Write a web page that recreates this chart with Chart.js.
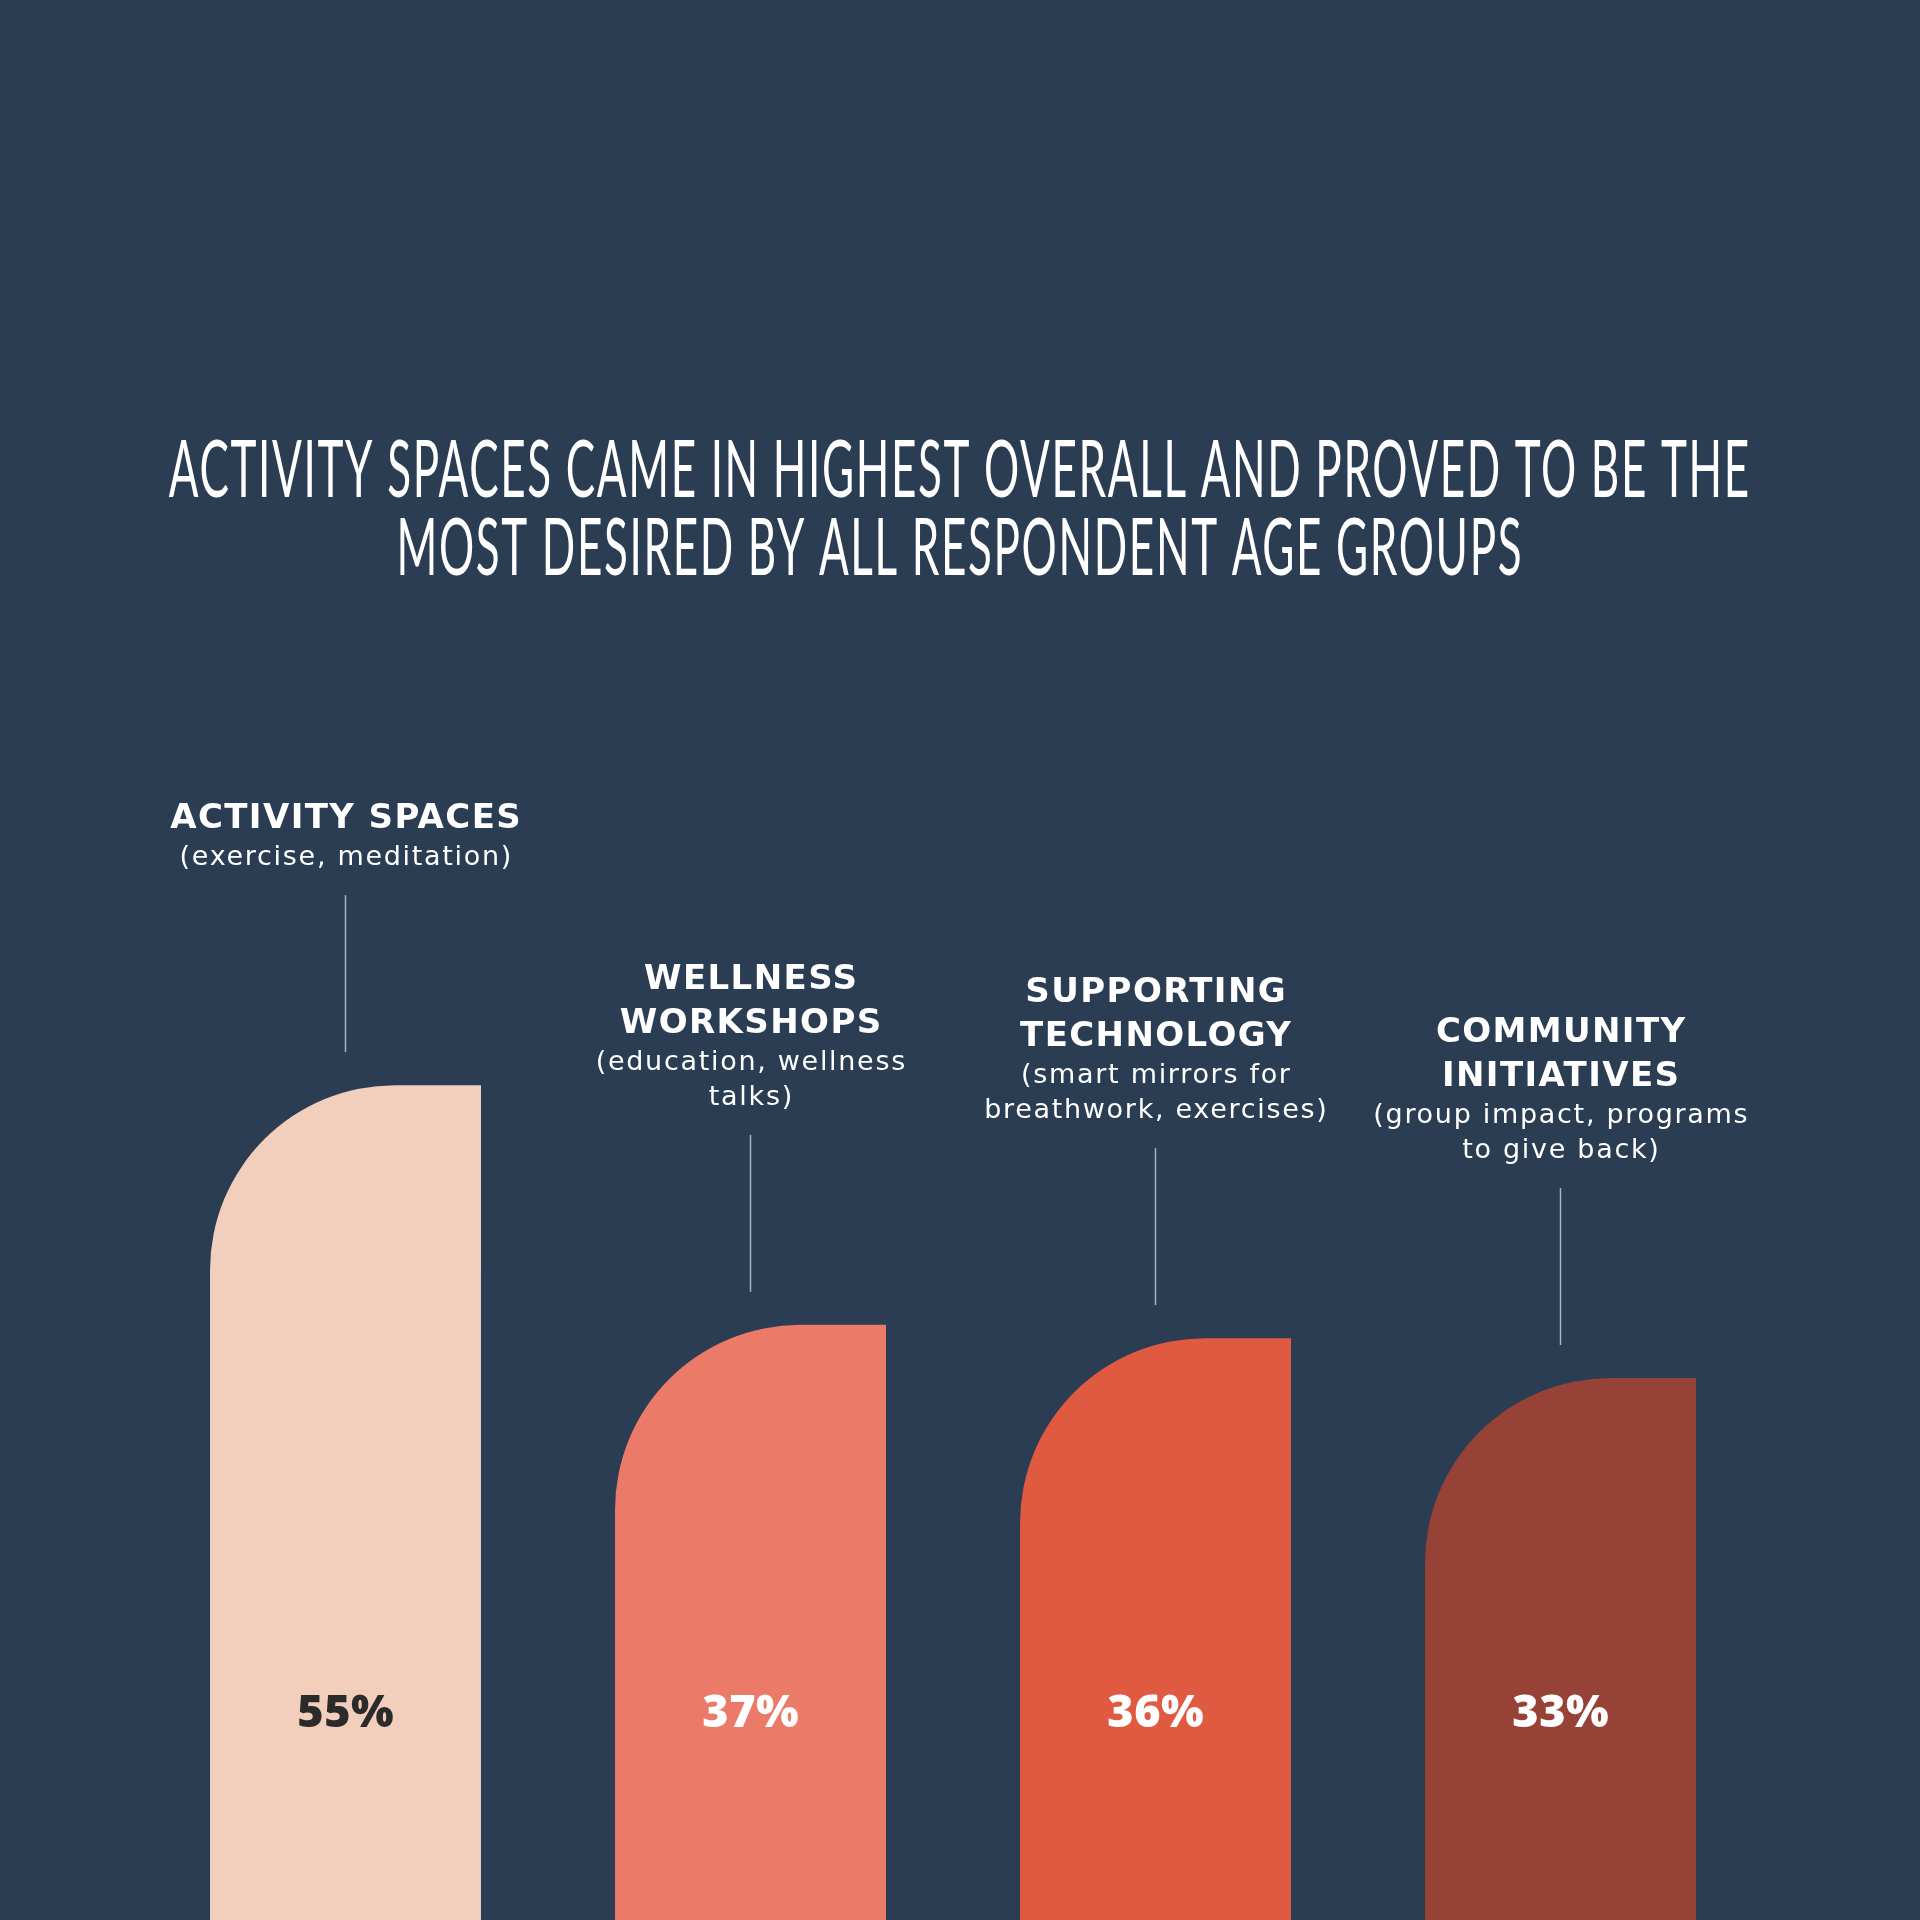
<!DOCTYPE html>
<html>
<head>
<meta charset="utf-8">
<script src="https://cdn.jsdelivr.net/npm/chart.js@4.4.1/dist/chart.umd.min.js"></script>
<style>
  html, body { margin: 0; padding: 0; background: #2a3d52; overflow: hidden; }
  #wrap { width: 1920px; height: 1920px; }
  canvas { display: block; }
</style>
</head>
<body>
<div id="wrap"><canvas id="c" width="1920" height="1920"></canvas></div>
<script>
// ---------------- data ----------------
const titleLines = [
  "ACTIVITY SPACES CAME IN HIGHEST OVERALL AND PROVED TO BE THE",
  "MOST DESIRED BY ALL RESPONDENT AGE GROUPS"
];
const categories = ["Activity spaces", "Wellness workshops", "Supporting technology", "Community initiatives"];
const categoryHeads = [
  ["ACTIVITY SPACES"],
  ["WELLNESS", "WORKSHOPS"],
  ["SUPPORTING", "TECHNOLOGY"],
  ["COMMUNITY", "INITIATIVES"]
];
const categoryNotes = [
  ["(exercise, meditation)"],
  ["(education, wellness", "talks)"],
  ["(smart mirrors for", "breathwork, exercises)"],
  ["(group impact, programs", "to give back)"]
];
const shares = [55, 37, 36, 33];
const barColors = ["#f2cfbd", "#ec7a68", "#e05a42", "#964236"];
const valueColors = ["#2b2b2b", "#ffffff", "#ffffff", "#ffffff"];

// value axis range (bars run off the bottom edge of the picture)
const Y_MIN = -7.7;
const Y_MAX = 100;

// ---------------- custom bar element: one big rounded (top-left) corner ----------------
class ArchBarElement extends Chart.BarElement {
  static id = 'archBar';
  static defaults = { ...Chart.BarElement.defaults, cornerRadius: 185 };
  draw(ctx) {
    const { x, y, base, width } = this.getProps(['x', 'y', 'base', 'width'], true);
    const left = x - width / 2, right = x + width / 2;
    const r = Math.min(this.options.cornerRadius, base - y, width);
    ctx.save();
    ctx.fillStyle = this.options.backgroundColor;
    ctx.beginPath();
    ctx.moveTo(left, base);
    ctx.lineTo(left, y + r);
    ctx.arcTo(left, y, left + r, y, r);
    ctx.lineTo(right, y);
    ctx.lineTo(right, base);
    ctx.closePath();
    ctx.fill();
    ctx.restore();
  }
}
class ArchBarController extends Chart.BarController {
  static id = 'archBar';
  static defaults = { ...Chart.BarController.defaults, dataElementType: 'archBar' };
}
Chart.register(ArchBarElement, ArchBarController);

// ---------------- plugins ----------------
const backgroundPlugin = {
  id: 'bg',
  beforeDraw(chart) {
    const ctx = chart.ctx;
    ctx.save();
    ctx.fillStyle = '#2a3d52';
    ctx.fillRect(0, 0, chart.width, chart.height);
    ctx.restore();
  }
};

const titlePlugin = {
  id: 'posterTitle',
  afterDraw(chart) {
    const ctx = chart.ctx;
    ctx.save();
    ctx.fillStyle = '#ffffff';
    ctx.font = '400 80px Lato, "Open Sans", sans-serif';
    ctx.letterSpacing = '3px';
    ctx.textBaseline = 'alphabetic';
    ctx.textAlign = 'center';
    const w0 = ctx.measureText(titleLines[0]).width;
    const sx = 1582 / w0;
    const cx = 959;
    const baselines = [497, 575];
    titleLines.forEach((line, i) => {
      ctx.save();
      ctx.translate(cx + 1.5 * sx, baselines[i]);
      ctx.scale(sx, 1);
      ctx.fillText(line, 0, 0);
      ctx.restore();
    });
    ctx.restore();
  }
};

const labelsPlugin = {
  id: 'barLabels',
  afterDatasetsDraw(chart) {
    const ctx = chart.ctx;
    const meta = chart.getDatasetMeta(0);
    ctx.save();
    meta.data.forEach((bar, i) => {
      const { x, y } = bar.getProps(['x', 'y'], true);
      // leader line
      ctx.strokeStyle = '#a9b4c1';
      ctx.lineWidth = 1.5;
      ctx.beginPath();
      ctx.moveTo(x, y - 190);
      ctx.lineTo(x, y - 33);
      ctx.stroke();

      ctx.fillStyle = '#ffffff';
      ctx.textAlign = 'center';
      ctx.textBaseline = 'alphabetic';
      const notes = categoryNotes[i];
      const heads = categoryHeads[i];
      const lastNote = y - 220;
      const firstNote = lastNote - 35 * (notes.length - 1);
      ctx.font = '400 27px "DejaVu Sans", sans-serif';
      ctx.letterSpacing = '1.7px';
      notes.forEach((t, k) => ctx.fillText(t, x + 0.85, firstNote + 35 * k));
      const lastHead = firstNote - 37;
      const firstHead = lastHead - 44 * (heads.length - 1);
      ctx.font = '700 34px "DejaVu Sans", sans-serif';
      ctx.letterSpacing = '1.4px';
      heads.forEach((t, k) => ctx.fillText(t, x + 0.7, firstHead + 44 * k));

      // value label inside the bar
      ctx.letterSpacing = '0.5px';
      ctx.font = '800 45px "Open Sans", sans-serif';
      ctx.fillStyle = valueColors[i];
      ctx.fillText(shares[i] + '%', x + 0.25, chart.chartArea.bottom - 193);
    });
    ctx.restore();
  }
};

// ---------------- chart ----------------
new Chart(document.getElementById('c'), {
  type: 'archBar',
  data: {
    labels: categories,
    datasets: [{
      data: shares,
      backgroundColor: barColors,
      base: Y_MIN,
      barPercentage: 0.669,
      categoryPercentage: 1
    }]
  },
  options: {
    responsive: false,
    animation: false,
    devicePixelRatio: 1,
    layout: { padding: { left: 143, right: 157, top: 486, bottom: 0 } },
    scales: {
      x: { display: false },
      y: { display: false, min: Y_MIN, max: Y_MAX }
    },
    plugins: {
      legend: { display: false },
      tooltip: { enabled: false },
      title: { display: false }
    }
  },
  plugins: [backgroundPlugin, titlePlugin, labelsPlugin]
});
</script>
</body>
</html>
